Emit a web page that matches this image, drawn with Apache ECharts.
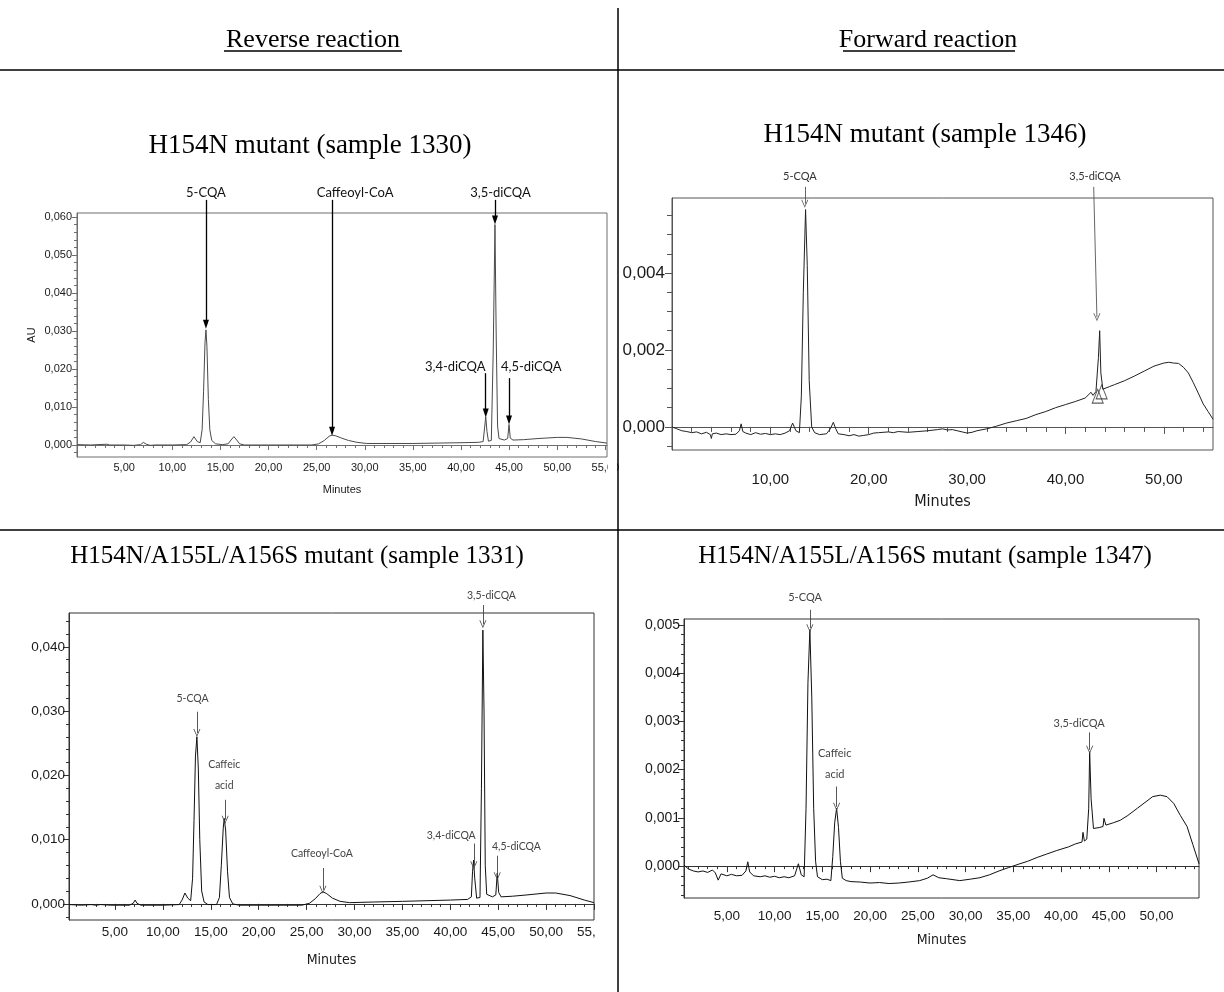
<!DOCTYPE html>
<html><head><meta charset="utf-8">
<script src="https://cdn.jsdelivr.net/npm/echarts@6/dist/echarts.min.js"></script>
<style>html,body{margin:0;padding:0;background:#fff}#c{width:1224px;height:992px}</style>
</head><body><div id="c"></div>
<script>
// ---------------- DATA ----------------
// Panel 1: Reverse reaction, H154N mutant (sample 1330)  [minutes, AU]
const P1_TRACE = [[0.1,0.0001],[1.5,0.0000],[3.2,0.0002],[3.5,0.0000],[5,0.0000],[6,-0.0001],[6.7,0.0001],[7.0,0.0007],[7.3,0.0002],[7.7,-0.0001],[8.2,0.0000],[10,0.0000],[11.5,0.0001],[11.9,0.0008],[12.25,0.0022],[12.6,0.0009],[12.9,0.0006],[13.1,0.004],[13.25,0.014],[13.4,0.027],[13.5,0.0303],[13.6,0.026],[13.75,0.012],[13.9,0.004],[14.1,0.0012],[14.5,0.0003],[15.2,0.0001],[15.8,0.0003],[16.1,0.0013],[16.4,0.0022],[16.7,0.0013],[17.0,0.0003],[17.5,0.0000],[20,0.0000],[24.5,0.0000],[25.2,0.0003],[25.8,0.0012],[26.3,0.0023],[26.6,0.0026],[27.0,0.0024],[27.6,0.0018],[28.3,0.0012],[29.2,0.0007],[30.2,0.0004],[35,0.0004],[40,0.0006],[41.8,0.0007],[42.3,0.0009],[42.45,0.0045],[42.57,0.0074],[42.7,0.0035],[42.85,0.001],[43.15,0.0012],[43.35,0.025],[43.53,0.058],[43.65,0.03],[43.8,0.005],[43.95,0.0017],[44.5,0.0013],[44.85,0.0017],[44.99,0.0054],[45.12,0.0018],[45.4,0.0013],[46.5,0.0014],[48,0.0017],[50,0.002],[51,0.002],[52.5,0.0016],[54,0.0009],[55.17,0.0005]];
const P1_LABELS = [['5-CQA',13.5,0.0663],['Caffeoyl-CoA',29.0,0.0663],['3,5-diCQA',44.1,0.0663],['3,4-diCQA',39.4,0.0205],['4,5-diCQA',47.3,0.0205]];
const P1_ARROWS = [[13.5,0.0645,13.5,0.0318],[26.6,0.0645,26.6,0.0036],[43.53,0.0645,43.53,0.0592],[42.57,0.0189,42.57,0.0084],[44.99,0.0176,44.99,0.0066]];
const P1_X_TICKS = [5,10,15,20,25,30,35,40,45,50,55];
const P1_Y_TICKS = [0,0.01,0.02,0.03,0.04,0.05,0.06];

// Panel 2: Forward reaction, H154N mutant (sample 1346)
const P2_TRACE = [[0,0.0000],[0.5,-0.00005],[1,-0.0001],[1.5,-0.00012],[2,-0.00015],[2.5,-0.00013],[3,-0.00018],[3.5,-0.00014],[3.9,-0.0002],[4.0,-0.0003],[4.1,-0.00018],[4.5,-0.00016],[5,-0.0002],[5.5,-0.00018],[6,-0.0002],[6.5,-0.00019],[6.85,-0.0001],[7.03,0.00008],[7.2,-0.00012],[7.5,-0.00016],[8,-0.0002],[8.5,-0.00015],[9,-0.00019],[9.5,-0.00017],[10,-0.0002],[10.5,-0.00018],[11,-0.0002],[11.5,-0.00016],[11.95,-0.0001],[12.26,0.0001],[12.6,-0.0001],[12.95,-0.00015],[13.15,0.0008],[13.35,0.0035],[13.58,0.00565],[13.75,0.0042],[13.95,0.0012],[14.2,0.0000],[14.5,-0.00015],[15,-0.0002],[15.7,-0.00018],[16.1,-0.00005],[16.4,0.00012],[16.65,-0.00005],[16.9,-0.00018],[17.5,-0.0002],[18,-0.00023],[18.5,-0.0002],[19,-0.00024],[19.5,-0.00022],[20,-0.0002],[20.5,-0.00016],[21,-0.00015],[22,-0.00013],[22.5,-0.00015],[23,-0.00012],[24,-0.00014],[25,-0.00012],[26,-0.0001],[27,-0.00007],[27.5,-0.00005],[28,-0.00008],[28.5,-0.00007],[29,-0.0001],[29.5,-0.00013],[30,-0.00016],[30.5,-0.00014],[31,-0.0001],[32,-0.00005],[33,0.00002],[34,0.0001],[35,0.00016],[36,0.00022],[37,0.00032],[38,0.0004],[39,0.0005],[40,0.00058],[41,0.00066],[42,0.00075],[42.6,0.0009],[42.8,0.00082],[43.1,0.00092],[43.35,0.0018],[43.48,0.0025],[43.6,0.0014],[43.8,0.00098],[44.5,0.00105],[45,0.0011],[46,0.0012],[47,0.00132],[48,0.00145],[49,0.00158],[50,0.00166],[50.5,0.00168],[51,0.00166],[51.5,0.00165],[52,0.00155],[52.5,0.0014],[53,0.00115],[53.5,0.00088],[54,0.0006],[54.5,0.0004],[55,0.0002]];
const P2_LABELS = [['5-CQA',13.0,0.0065],['3,5-diCQA',43.0,0.0065]];
const P2_ARROWS = [[13.5,0.00624,13.5,0.0058],[42.87,0.00624,43.2,0.00285]];
const P2_PEAK_MARKS = [[43.28,0.0008],[43.68,0.00091]];
const P2_X_TICKS = [10,20,30,40,50];
const P2_Y_TICKS = [0,0.002,0.004];

// Panel 3: Reverse reaction, H154N/A155L/A156S mutant (sample 1331)
const P3_TRACE = [[0.2,-0.0001],[1.5,-0.0002],[2.5,-0.0001],[3,-0.0002],[3.5,-0.0001],[4.5,-0.0002],[6.5,-0.0002],[6.9,0.0001],[7.1,0.0006],[7.3,0.0001],[7.7,-0.0002],[10,-0.0002],[11.7,-0.0001],[12.0,0.0006],[12.3,0.0017],[12.6,0.0009],[12.9,0.0005],[13.1,0.004],[13.25,0.013],[13.4,0.023],[13.55,0.026],[13.7,0.021],[13.85,0.01],[14.05,0.002],[14.3,0.0003],[14.7,-0.0001],[15.6,-0.0001],[15.9,0.001],[16.1,0.006],[16.3,0.0118],[16.4,0.0133],[16.55,0.0115],[16.75,0.005],[16.95,0.001],[17.3,0],[18,-0.0002],[24.5,-0.0002],[25.3,0.0001],[25.9,0.0008],[26.4,0.0016],[26.7,0.0019],[27.1,0.0016],[27.7,0.0009],[28.5,0.0004],[29.5,0.0002],[32,0.0003],[35,0.0004],[40,0.0006],[41.8,0.0007],[42.2,0.0011],[42.32,0.005],[42.43,0.0068],[42.55,0.004],[42.75,0.0009],[43.1,0.001],[43.25,0.018],[43.4,0.0426],[43.52,0.03],[43.65,0.006],[43.8,0.0015],[44.4,0.0011],[44.75,0.0014],[44.9,0.0048],[45.05,0.0018],[45.3,0.0011],[46.5,0.0012],[48,0.0014],[50,0.0017],[51,0.0017],[52.5,0.0013],[54,0.0006],[55,0.0002]];
const P3_LABELS = [['5-CQA',13.1,0.0320],['Caffeic\nacid',16.4,0.0201],['Caffeoyl-CoA',26.6,0.0079],['3,4-diCQA',40.1,0.0107],['3,5-diCQA',44.3,0.0479],['4,5-diCQA',46.9,0.0089]];
const P3_ARROWS = [[13.55,0.0299,13.55,0.0266],[16.5,0.0162,16.5,0.0131],[26.7,0.0056,26.7,0.0022],[42.45,0.0094,42.45,0.006],[43.4,0.0465,43.4,0.0435],[44.9,0.0075,44.9,0.0043]];
const P3_X_TICKS = [5,10,15,20,25,30,35,40,45,50,55];
const P3_Y_TICKS = [0,0.01,0.02,0.03,0.04];

// Panel 4: Forward reaction, H154N/A155L/A156S mutant (sample 1347)
const P4_TRACE = [[0.52,0.00002],[1,-0.00006],[1.5,-0.0001],[2,-0.00012],[2.5,-0.0001],[3,-0.00013],[3.5,-0.00008],[3.8,-0.00014],[4.1,-0.00029],[4.4,-0.00016],[5,-0.0002],[5.5,-0.00017],[6,-0.0002],[6.6,-0.00019],[7.0,-0.0001],[7.2,0.00009],[7.4,-0.00012],[7.8,-0.0002],[8.5,-0.00022],[9,-0.0002],[9.5,-0.00023],[10,-0.00021],[10.5,-0.00024],[11,-0.00022],[11.5,-0.00024],[12.1,-0.0002],[12.5,0.00005],[12.8,-0.00018],[13.1,-0.00022],[13.3,0.0012],[13.5,0.0038],[13.7,0.0049],[13.9,0.0035],[14.1,0.0012],[14.3,0.0001],[14.5,-0.00022],[15,-0.00028],[15.5,-0.00027],[15.9,-0.0003],[16.1,0.0002],[16.3,0.0009],[16.5,0.0012],[16.7,0.0008],[16.9,0.0001],[17.1,-0.00025],[17.5,-0.0003],[18,-0.00032],[19,-0.00033],[20,-0.00035],[21,-0.00034],[22,-0.00036],[23,-0.00035],[24,-0.00033],[25.2,-0.0003],[26,-0.00025],[26.6,-0.00018],[27.2,-0.00024],[28,-0.00026],[29.4,-0.0003],[30.5,-0.00027],[31.5,-0.00024],[32.5,-0.00018],[33.5,-0.0001],[34.5,-0.00003],[35.7,0.00005],[36.5,0.0001],[37.5,0.00018],[38.5,0.00025],[39.5,0.00032],[40.8,0.0004],[41.5,0.00046],[42.2,0.0005],[42.3,0.0007],[42.45,0.00052],[42.7,0.00056],[42.9,0.0012],[43.0,0.00237],[43.15,0.0014],[43.4,0.00078],[44,0.0008],[44.4,0.00082],[44.5,0.00099],[44.7,0.00085],[45.5,0.0009],[46.2,0.00095],[47,0.00105],[48,0.0012],[49,0.00135],[49.6,0.00144],[50.4,0.00147],[51.1,0.00144],[51.8,0.0013],[52.5,0.00105],[53.2,0.00082],[53.8,0.00045],[54.45,0.00005]];
const P4_LABELS = [['5-CQA',13.2,0.00556],['Caffeic\nacid',16.3,0.00212],['3,5-diCQA',41.9,0.00295]];
const P4_ARROWS = [[13.7,0.00531,13.7,0.00493],[16.5,0.00165,16.5,0.00123],[43.0,0.00277,43.0,0.00241]];
const P4_X_TICKS = [5,10,15,20,25,30,35,40,45,50];
const P4_Y_TICKS = [0,0.001,0.002,0.003,0.004,0.005];

const HEADERS = ['Reverse reaction','Forward reaction'];
const TITLES = ['H154N mutant (sample 1330)','H154N mutant (sample 1346)','H154N/A155L/A156S mutant (sample 1331)','H154N/A155L/A156S mutant (sample 1347)'];

// ---------------- LAYOUT / STYLE ----------------
const NARROW = '"DejaVu Sans Condensed","Liberation Sans",sans-serif';
const ARIAL = '"Liberation Sans",Arial,sans-serif';
const SERIF = '"Liberation Serif","Times New Roman",serif';
const ANNOT = 'Lato,"Open Sans",sans-serif';
const CHEVRON = 'path://M5,0 L10,10 L8.8,10 L5,2.2 L1.2,10 L0,10 Z';
const EXT = 50; // extra room above each frame for annotations (px)

const panels = [
  {trace:P1_TRACE, labels:P1_LABELS, arrows:P1_ARROWS, xMajor:P1_X_TICKS, yMajor:P1_Y_TICKS,
   grid:{left:77,top:213,width:530,height:244}, xMin:0.1, xMax:55.17, yMin:-0.00316, yMax:0.06105,
   xMinorStep:1, yMinorStep:0.002, yDec:3,
   box:'#6e6e6e', traceColor:'#4a4a4a', traceWidth:1,
   tickFont:ARIAL, tickSize:11, xMargin:5, yMargin:5, majLen:5, minLen:3,
   xName:'Minutes', xNameSize:11, xNameFont:ARIAL, xNameGap:27, yName:'AU', yNameGap:40,
   arrowColor:'#000', arrowWidth:1.3, arrowSymbol:'triangle', arrowSize:[6,9],
   annotSize:13, annotColor:'#111'},
  {trace:P2_TRACE, labels:P2_LABELS, arrows:P2_ARROWS, xMajor:P2_X_TICKS, yMajor:P2_Y_TICKS,
   grid:{left:672,top:198,width:541,height:252}, xMin:0, xMax:55, yMin:-0.0006, yMax:0.00595,
   xMinorStep:2, yMinorStep:0.0005, yDec:3,
   box:'#555', traceColor:'#222', traceWidth:1,
   tickFont:ARIAL, tickSize:17, xTickSize:15, xMargin:22, yMargin:7, majLen:7, minLen:5,
   xName:'Minutes', xNameSize:16, xNameFont:NARROW, xNameGap:44, yName:'', yNameGap:0,
   arrowColor:'#555', arrowWidth:0.9, arrowSymbol:CHEVRON, arrowSize:[7,8],
   annotSize:11, annotColor:'#333'},
  {trace:P3_TRACE, labels:P3_LABELS, arrows:P3_ARROWS, xMajor:P3_X_TICKS, yMajor:P3_Y_TICKS,
   grid:{left:69,top:613,width:525,height:307}, xMin:0.2, xMax:55, yMin:-0.0025, yMax:0.04526,
   xMinorStep:1, yMinorStep:0.002, yDec:3,
   box:'#333', traceColor:'#111', traceWidth:1,
   tickFont:ARIAL, tickSize:13.5, xMargin:5, yMargin:4, majLen:6, minLen:3,
   xName:'Minutes', xNameSize:14, xNameFont:NARROW, xNameGap:33, yName:'', yNameGap:0,
   arrowColor:'#444', arrowWidth:0.9, arrowSymbol:CHEVRON, arrowSize:[7,8],
   annotSize:10.5, annotColor:'#444'},
  {trace:P4_TRACE, labels:P4_LABELS, arrows:P4_ARROWS, xMajor:P4_X_TICKS, yMajor:P4_Y_TICKS,
   grid:{left:684,top:619,width:515,height:279}, xMin:0.52, xMax:54.45, yMin:-0.00066, yMax:0.00512,
   xMinorStep:1, yMinorStep:0.0002, yDec:3,
   box:'#333', traceColor:'#111', traceWidth:1,
   tickFont:ARIAL, tickSize:14, xTickSize:13.5, xMargin:11, yMargin:4, majLen:6, minLen:3,
   xName:'Minutes', xNameSize:14, xNameFont:NARROW, xNameGap:35, yName:'', yNameGap:0,
   arrowColor:'#444', arrowWidth:0.9, arrowSymbol:CHEVRON, arrowSize:[7,8],
   annotSize:11, annotColor:'#444'}
];

function minorVals(min, max, step){
  const out=[]; const k0=Math.ceil(min/step-1e-9), k1=Math.floor(max/step+1e-9);
  for(let k=k0;k<=k1;k++) out.push(+(k*step).toFixed(7));
  return out;
}
const fmt = d => v => Number(v).toFixed(d).replace('.', ',');

const grids=[], xAxes=[], yAxes=[], series=[];
panels.forEach((p,i)=>{
  grids.push(Object.assign({show:true, borderColor:p.box, borderWidth:1, backgroundColor:'#fff', containLabel:false}, p.grid));
  const axLine = {show:true, lineStyle:{color:p.box, width:1}};
  xAxes.push({type:'value', gridIndex:i, position:'bottom', min:p.xMin, max:p.xMax,
    axisLine:axLine, splitLine:{show:false},
    axisTick:{show:true, customValues:p.xMajor, length:p.majLen, lineStyle:{color:p.box}},
    axisLabel:{show:true, customValues:p.xMajor, formatter:fmt(2), margin:p.xMargin,
      fontFamily:p.tickFont, fontSize:p.xTickSize||p.tickSize, color:'#1a1a1a'},
    name:p.xName, nameLocation:'middle', nameGap:p.xNameGap,
    nameTextStyle:{fontFamily:p.xNameFont, fontSize:p.xNameSize, color:'#1a1a1a'}});
  xAxes.push({type:'value', gridIndex:i, position:'bottom', min:p.xMin, max:p.xMax,
    axisLine:{show:false}, splitLine:{show:false}, axisLabel:{show:false},
    axisTick:{show:true, customValues:minorVals(p.xMin,p.xMax,p.xMinorStep), length:p.minLen, lineStyle:{color:p.box}}});
  yAxes.push({type:'value', gridIndex:i, position:'left', min:p.yMin, max:p.yMax,
    axisLine:axLine, splitLine:{show:false},
    axisTick:{show:true, customValues:p.yMajor, length:p.majLen, lineStyle:{color:p.box}},
    axisLabel:{show:true, customValues:p.yMajor, formatter:fmt(p.yDec), margin:p.yMargin,
      fontFamily:p.tickFont, fontSize:p.tickSize, color:'#1a1a1a'},
    name:p.yName, nameLocation:'middle', nameGap:p.yNameGap,
    nameTextStyle:{fontFamily:ARIAL, fontSize:11, color:'#1a1a1a'}});
  yAxes.push({type:'value', gridIndex:i, position:'left', min:p.yMin, max:p.yMax,
    axisLine:{show:false}, splitLine:{show:false}, axisLabel:{show:false},
    axisTick:{show:true, customValues:minorVals(p.yMin,p.yMax,p.yMinorStep), length:p.minLen, lineStyle:{color:p.box}}});

  series.push({type:'line', xAxisIndex:2*i, yAxisIndex:2*i, data:p.trace, symbol:'none', showSymbol:false,
    clip:false, animation:false, silent:true,
    lineStyle:{color:p.traceColor, width:p.traceWidth}});
});

// Overlay coordinate systems (same scale, extended upward) for annotations above the frames
panels.forEach((p,i)=>{
  const g = p.grid;
  const perPx = (p.yMax - p.yMin) / g.height;
  const yMaxExt = p.yMax + EXT * perPx;
  const gi = grids.length;
  grids.push({show:false, left:g.left, top:g.top-EXT, width:g.width, height:g.height+EXT});
  const xi = xAxes.length, yi = yAxes.length;
  xAxes.push({type:'value', gridIndex:gi, min:p.xMin, max:p.xMax, show:false});
  yAxes.push({type:'value', gridIndex:gi, min:p.yMin, max:yMaxExt, show:false});
  series.push({type:'scatter', xAxisIndex:xi, yAxisIndex:yi, data:[], symbolSize:0, silent:true, animation:false,
    markLine:{silent:true, animation:false, symbol:['none', p.arrowSymbol], symbolSize:p.arrowSize,
      lineStyle:{color:p.arrowColor, width:p.arrowWidth, type:'solid'}, label:{show:false},
      emphasis:{disabled:true},
      data:p.arrows.map(a=>[{coord:[a[0],a[1]]},{coord:[a[2],a[3]]}])},
    markPoint:{silent:true, animation:false, symbol:'circle', symbolSize:1,
      itemStyle:{color:'rgba(0,0,0,0)'},
      label:{show:true, position:'inside', formatter:'{b}', color:p.annotColor,
        fontFamily:ANNOT, fontSize:p.annotSize, lineHeight:21},
      data:p.labels.map(l=>({name:l[0], coord:[l[1],l[2]]}))}
  });
  if (i === 1) {
    series.push({type:'scatter', xAxisIndex:xi, yAxisIndex:yi, data:P2_PEAK_MARKS, symbol:'triangle',
      symbolSize:[11,14], silent:true, animation:false,
      itemStyle:{color:'rgba(255,255,255,0)', borderColor:'#333', borderWidth:1}});
  }
});

const T = (text, x, y, size) => ({type:'text', z:60, style:{text, x, y, font:size+'px '+SERIF, fill:'#000',
  align:'center', verticalAlign:'middle', textAlign:'center', textVerticalAlign:'middle'}});
const graphic = [
  {type:'line', z:50, shape:{x1:618,y1:8,x2:618,y2:992}, style:{stroke:'#000', lineWidth:1.5}},
  {type:'line', z:50, shape:{x1:0,y1:70,x2:1224,y2:70}, style:{stroke:'#000', lineWidth:1.5}},
  {type:'line', z:50, shape:{x1:0,y1:530,x2:1224,y2:530}, style:{stroke:'#000', lineWidth:1.5}},
  {type:'rect', z:40, shape:{x:608,y:458,width:9,height:24}, style:{fill:'#fff'}},
  {type:'rect', z:40, shape:{x:595,y:921,width:22,height:24}, style:{fill:'#fff'}},
  T(HEADERS[0], 313, 40, 26),
  {type:'line', z:60, shape:{x1:224,y1:51,x2:402,y2:51}, style:{stroke:'#000', lineWidth:1.5}},
  T(HEADERS[1], 928, 40, 26),
  {type:'line', z:60, shape:{x1:843,y1:51,x2:1015,y2:51}, style:{stroke:'#000', lineWidth:1.5}},
  T(TITLES[0], 310, 146, 27),
  T(TITLES[1], 925, 135, 27),
  T(TITLES[2], 297, 556, 25),
  T(TITLES[3], 925, 556, 25)
];

const chart = echarts.init(document.getElementById('c'));
chart.setOption({animation:false, backgroundColor:'#fff', grid:grids, xAxis:xAxes, yAxis:yAxes, series:series, graphic:graphic});
</script></body></html>
